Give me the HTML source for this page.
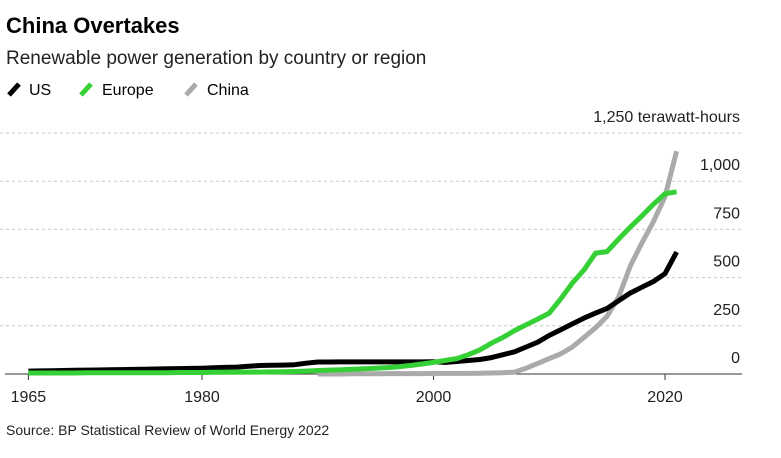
<!DOCTYPE html>
<html><head><meta charset="utf-8"><style>
body{margin:0;background:#fff;font-family:"Liberation Sans",sans-serif;}
</style></head><body>
<svg width="781" height="453" viewBox="0 0 781 453" xmlns="http://www.w3.org/2000/svg" id="chart" font-family="Liberation Sans, sans-serif">
<text x="6" y="33" font-size="22" font-weight="bold" fill="#000">China Overtakes</text>
<text x="6" y="64" font-size="19" fill="#222">Renewable power generation by country or region</text>
<g>
<line x1="9" y1="95" x2="19" y2="84" stroke="#000" stroke-width="5"/>
<text x="29" y="95" font-size="16" fill="#000">US</text>
<line x1="81" y1="95" x2="91" y2="84" stroke="#35d035" stroke-width="5"/>
<text x="102" y="95" font-size="16" fill="#000">Europe</text>
<line x1="186" y1="95" x2="196" y2="84" stroke="#aaa" stroke-width="5"/>
<text x="207" y="95" font-size="16" fill="#000">China</text>
</g>
<g id="grid"></g>
<g id="series"></g>
<text x="6" y="435" font-size="14" fill="#222">Source: BP Statistical Review of World Energy 2022</text>
</svg>
<script>
const years = [];
for (let y = 1965; y <= 2021; y++) years.push(y);
const usValues = [15,16,17,18,19,20,21,22,23,24, 25,26,27,28,29,30,32,34,36,40, 44,45,46,48,56,62,62,63,63,63, 63,63,63,63,63,64,60,65,70,75, 85,100,115,140,165,200,230,260,290,316, 340,380,420,450,480,520,633];
const europeValues = [5,5,5,5,5,6,6,6,6,6, 7,7,7,8,8,8,9,9,9,10, 10,11,12,13,15,18,20,22,25,27, 30,33,38,44,52,60,70,80,100,125, 160,190,225,255,285,316,390,472,540,627, 635,700,762,820,880,935,945];
const chinaValues = [null,null,null,null,null,null,null,null,null,null, null,null,null,null,null,null,null,null,null,null, null,null,null,null,null, 0,0,0,1,1,1,2,2,2,2,3,3,3,3,4, 5,7,10,30,55,80,105,140,190,240, 300,400,560,680,790,920,1155];
const yTicks = [0,250,500,750,1000,1250];
const yTickLabels = ["0","250","500","750","1,000","1,250 terawatt-hours"];
const xTicks = [1965,1980,2000,2020];
const xTickLabels = ["1965","1980","2000","2020"];

const NS = "http://www.w3.org/2000/svg";
const xScale = yr => 28.4 + (yr - 1965) * 11.575;
const yScale = v => 374 - v * 0.1928;
const grid = document.getElementById("grid");
const series = document.getElementById("series");

yTicks.forEach((t, i) => {
  const y = yScale(t);
  if (t > 0) {
    const l = document.createElementNS(NS, "line");
    l.setAttribute("x1", 0); l.setAttribute("x2", 742);
    l.setAttribute("y1", y); l.setAttribute("y2", y);
    l.setAttribute("stroke", "#c8c8c8"); l.setAttribute("stroke-dasharray", "3 3");
    
    
    grid.appendChild(l);
  }
  const tx = document.createElementNS(NS, "text");
  tx.setAttribute("x", 740); tx.setAttribute("y", y - 11);
  tx.setAttribute("text-anchor", "end"); tx.setAttribute("font-size", "16"); tx.setAttribute("fill", "#222");
  tx.textContent = yTickLabels[i];
  
  
  grid.appendChild(tx);
});
const axis = document.createElementNS(NS, "line");
axis.setAttribute("x1", 5); axis.setAttribute("x2", 742);
axis.setAttribute("y1", 374); axis.setAttribute("y2", 374);
axis.setAttribute("stroke", "#333"); axis.setAttribute("stroke-width", "1");


grid.appendChild(axis);
xTicks.forEach((t, i) => {
  const x = xScale(t);
  const l = document.createElementNS(NS, "line");
  l.setAttribute("x1", x); l.setAttribute("x2", x);
  l.setAttribute("y1", 374); l.setAttribute("y2", 380);
  l.setAttribute("stroke", "#333");
  
  
  grid.appendChild(l);
  const tx = document.createElementNS(NS, "text");
  tx.setAttribute("x", x); tx.setAttribute("y", 402);
  tx.setAttribute("text-anchor", "middle"); tx.setAttribute("font-size", "16"); tx.setAttribute("fill", "#222");
  tx.textContent = xTickLabels[i];
  
  
  grid.appendChild(tx);
});

function drawLine(vals, color, name) {
  let d = "";
  vals.forEach((v, i) => {
    if (v === null || v === undefined) return;
    d += (d ? "L" : "M") + xScale(years[i]).toFixed(1) + "," + yScale(v).toFixed(1);
  });
  const p = document.createElementNS(NS, "path");
  p.setAttribute("d", d); p.setAttribute("fill", "none");
  p.setAttribute("stroke", color); p.setAttribute("stroke-width", "5");
  p.setAttribute("stroke-linejoin", "round");
  
  
  series.appendChild(p);
}
drawLine(chinaValues, "#aaaaaa", "china-line");
drawLine(usValues, "#000000", "us-line");
drawLine(europeValues, "#35d035", "europe-line");
</script>
</body></html>
